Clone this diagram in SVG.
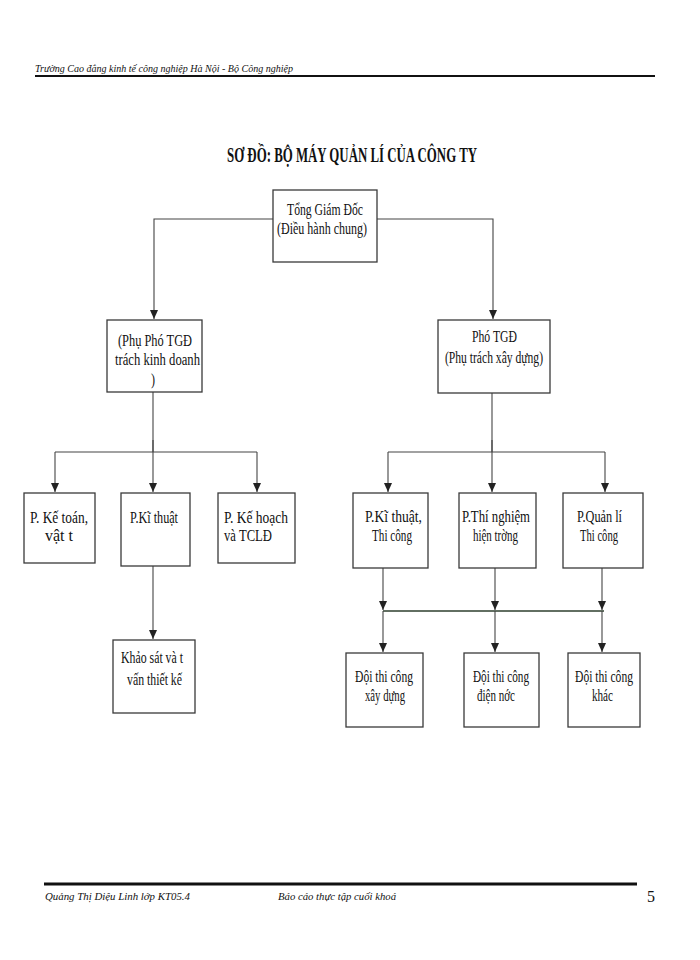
<svg xmlns="http://www.w3.org/2000/svg" width="700" height="960" viewBox="0 0 700 960">
<style>
.bg{fill:#ffffff}
.box{fill:#ffffff;stroke:#3a3a3a;stroke-width:1.3}
.t{font-family:"Liberation Serif","DejaVu Serif",serif;font-size:16px;fill:#111;}
.c{fill:none;stroke:#444;stroke-width:1.1}
.hdr{font-family:"Liberation Serif","DejaVu Serif",serif;font-style:italic;font-size:11px;fill:#111}
.title{font-family:"Liberation Serif","DejaVu Serif",serif;font-weight:bold;font-size:21px;fill:#111}
</style>
<defs>
<marker id="ad" markerUnits="userSpaceOnUse" markerWidth="8" markerHeight="9" viewBox="0 0 8 9" refX="4" refY="9" orient="0">
<path d="M0,0 L8,0 L4,9 Z" fill="#222"/>
</marker>
</defs>
<rect class="bg" x="0" y="0" width="700" height="960"/>

<g id="header">
<text class="hdr" x="35" y="72" textLength="258" lengthAdjust="spacingAndGlyphs">Trường  Cao đẳng kinh tế công nghiệp Hà Nội - Bộ Công nghiệp</text>
<line x1="35" y1="76" x2="655" y2="76" stroke="#111" stroke-width="2.2"/>
</g>

<text class="title" x="227" y="162" textLength="250" lengthAdjust="spacingAndGlyphs">SƠ ĐỒ: BỘ MÁY QUẢN LÍ CỦA CÔNG TY</text>

<g id="connectors">
<path class="c" d="M273,219 H154 V319" marker-end="url(#ad)"/>
<path class="c" d="M377,219 H493 V319" marker-end="url(#ad)"/>
<path class="c" d="M153,392 V452"/>
<path class="c" d="M55,452 H257"/>
<path class="c" d="M55,452 V492" marker-end="url(#ad)"/>
<path class="c" d="M153,440 V492" marker-end="url(#ad)"/>
<path class="c" d="M257,452 V492" marker-end="url(#ad)"/>
<path class="c" d="M153,566 V639" marker-end="url(#ad)"/>
<path class="c" d="M492,393 V452"/>
<path class="c" d="M388,452 H605"/>
<path class="c" d="M388,452 V492" marker-end="url(#ad)"/>
<path class="c" d="M492,440 V492" marker-end="url(#ad)"/>
<path class="c" d="M605,452 V492" marker-end="url(#ad)"/>
<path class="c" d="M383,567 V610" marker-end="url(#ad)"/>
<path class="c" d="M495,567 V610" marker-end="url(#ad)"/>
<path class="c" d="M602,567 V610" marker-end="url(#ad)"/>
<path d="M383,611 H604" fill="none" stroke="#2e3f2e" stroke-width="1.6"/>
<path class="c" d="M383,611 V652" marker-end="url(#ad)"/>
<path class="c" d="M495,611 V652" marker-end="url(#ad)"/>
<path class="c" d="M602,611 V652" marker-end="url(#ad)"/>
</g>

<g id="tgd">
<rect class="box" x="273" y="190" width="104" height="72"/>
<text class="t" x="287" y="215" textLength="76" lengthAdjust="spacingAndGlyphs">Tổng Giám Đốc</text>
<text class="t" x="277" y="234" textLength="90" lengthAdjust="spacingAndGlyphs">(Điều hành chung)</text>
</g>

<g id="pho-kd">
<rect class="box" x="107" y="320" width="95" height="72"/>
<text class="t" x="118" y="346" textLength="74" lengthAdjust="spacingAndGlyphs">(Phụ Phó TGĐ</text>
<text class="t" x="115" y="365" textLength="85" lengthAdjust="spacingAndGlyphs">trách kinh doanh</text>
<text class="t" x="151" y="385" textLength="4" lengthAdjust="spacingAndGlyphs">)</text>
</g>

<g id="pho-xd">
<rect class="box" x="438" y="320" width="112" height="73"/>
<text class="t" x="472" y="342" textLength="45" lengthAdjust="spacingAndGlyphs">Phó TGĐ</text>
<text class="t" x="445" y="363" textLength="98" lengthAdjust="spacingAndGlyphs">(Phụ trách xây dựng)</text>
</g>

<g id="ke-toan">
<rect class="box" x="24" y="493" width="71" height="70"/>
<text class="t" x="30" y="523" textLength="58" lengthAdjust="spacingAndGlyphs">P. Kế toán,</text>
<text class="t" x="45" y="541" textLength="28" lengthAdjust="spacingAndGlyphs">vật t</text>
</g>

<g id="ki-thuat">
<rect class="box" x="121" y="493" width="69" height="73"/>
<text class="t" x="130" y="523" textLength="48" lengthAdjust="spacingAndGlyphs">P.Kĩ thuật</text>
</g>

<g id="ke-hoach">
<rect class="box" x="218" y="493" width="77" height="70"/>
<text class="t" x="224" y="523" textLength="64" lengthAdjust="spacingAndGlyphs">P. Kế hoạch</text>
<text class="t" x="224" y="541" textLength="48" lengthAdjust="spacingAndGlyphs">và TCLĐ</text>
</g>

<g id="khao-sat">
<rect class="box" x="113" y="640" width="82" height="73"/>
<text class="t" x="121" y="663" textLength="62" lengthAdjust="spacingAndGlyphs">Khảo sát và t</text>
<text class="t" x="127" y="685" textLength="55" lengthAdjust="spacingAndGlyphs">vấn thiết kế</text>
</g>

<g id="kt-thicong">
<rect class="box" x="353" y="493" width="75" height="75"/>
<text class="t" x="365" y="522" textLength="57" lengthAdjust="spacingAndGlyphs">P.Kĩ thuật,</text>
<text class="t" x="372" y="541" textLength="40" lengthAdjust="spacingAndGlyphs">Thi công</text>
</g>

<g id="thi-nghiem">
<rect class="box" x="459" y="493" width="77" height="75"/>
<text class="t" x="462" y="522" textLength="68" lengthAdjust="spacingAndGlyphs">P.Thí nghiệm</text>
<text class="t" x="473" y="541" textLength="45" lengthAdjust="spacingAndGlyphs">hiện trờng</text>
</g>

<g id="quan-li">
<rect class="box" x="563" y="493" width="80" height="75"/>
<text class="t" x="577" y="522" textLength="45" lengthAdjust="spacingAndGlyphs">P.Quản lí</text>
<text class="t" x="580" y="541" textLength="38" lengthAdjust="spacingAndGlyphs">Thi công</text>
</g>

<g id="doi-xd">
<rect class="box" x="346" y="653" width="77" height="74"/>
<text class="t" x="355" y="682" textLength="58" lengthAdjust="spacingAndGlyphs">Đội thi công</text>
<text class="t" x="365" y="701" textLength="40" lengthAdjust="spacingAndGlyphs">xây dựng</text>
</g>

<g id="doi-dn">
<rect class="box" x="464" y="653" width="75" height="74"/>
<text class="t" x="473" y="682" textLength="56" lengthAdjust="spacingAndGlyphs">Đội thi công</text>
<text class="t" x="477" y="701" textLength="38" lengthAdjust="spacingAndGlyphs">điện nớc</text>
</g>

<g id="doi-khac">
<rect class="box" x="568" y="653" width="72" height="74"/>
<text class="t" x="575" y="682" textLength="58" lengthAdjust="spacingAndGlyphs">Đội thi công</text>
<text class="t" x="592" y="701" textLength="21" lengthAdjust="spacingAndGlyphs">khác</text>
</g>

<g id="footer">
<line x1="44" y1="884" x2="637" y2="884" stroke="#111" stroke-width="3"/>
<text class="hdr" x="45" y="900" textLength="145" lengthAdjust="spacingAndGlyphs">Quảng Thị Diệu Linh lớp KT05.4</text>
<text class="hdr" x="278" y="900" textLength="118" lengthAdjust="spacingAndGlyphs">Báo cáo thực tập cuối khoá</text>
<text x="647" y="902" font-family="Liberation Serif, serif" font-size="16" fill="#111">5</text>
</g>
</svg>
